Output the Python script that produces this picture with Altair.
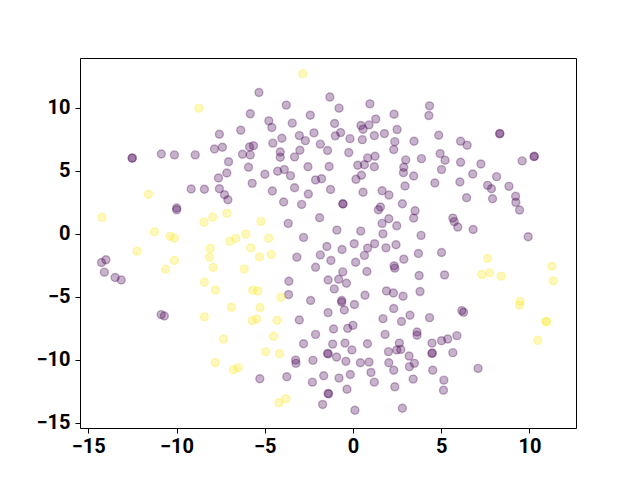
import altair as alt
import pandas as pd

# class 0 (purple)
x0 = [-12.52, -12.50, -10.86, -10.12, -8.94, -9.17, -8.42, -9.99, -9.99,
      -5.33, -3.78, -1.31, -5.82, -2.42, -4.77, -4.60, -3.44, -6.36, -7.57,
      -4.03, -3.04, -2.70, -2.21, -7.85, -7.40, -5.86, -5.64, -4.54, -1.85,
      -1.44, -6.26, -5.82, -4.12, -4.12, -3.31, -3.01, -7.05, -5.92, -2.55,
      -1.35, -7.15, -7.62, -4.99, -4.27, -3.89, -3.54, -2.12, -1.78, -7.57,
      -5.71, -3.31, -7.28, -7.09, -4.57, -2.53, -3.93, -2.91, -1.27, -3.67,
      -1.89, -2.80,
      -0.79, 0.96, 4.34, 4.30, -1.04, 1.29, 2.33, 0.45, 0.57, 0.91, -1.00,
      -0.70, -0.17, 0.53, 1.21, 1.78, 2.50, 2.37, 2.31, 3.46, 4.86, -0.24,
      1.25, 0.83, 0.27, 0.65, 1.21, 2.99, 2.88, 2.86, 3.88, 4.94, 5.22, 5.02,
      0.48, 0.17, 3.44, 4.64, 0.57, 1.65, 2.04, 2.95, -0.58, -0.56, 1.56,
      1.44, 2.80, 3.52, 3.44, 1.65, 2.03, 2.48, -0.91, 0.44, 1.70, 3.86,
      5.66, 5.74,
      8.31, 8.33, 6.10, 6.47, 10.26, 10.28, 9.59, 6.10, 7.25, 6.79, 8.14,
      6.06, 7.63, 7.85, 8.84, 6.44, 7.91, 9.22, 9.23, 9.44, 5.94, 6.81, 9.93,
      -14.00, -14.25, -14.09, -13.48, -13.13, -10.87, -10.69,
      -3.18, -1.85, -1.48, -2.12, -1.41, -3.63, -3.65, -2.40, -3.04, -1.41,
      -2.12, -2.80, -3.25, -3.23, -2.27, -1.44, -1.40, -5.28, -3.75, -2.30,
      -1.66, -1.41, -1.38, -1.72,
      -0.62, 0.07, 0.83, 0.65, 1.23, 1.87, 2.44, -1.25, 0.15, 0.79, 2.33,
      2.37, 2.88, 3.71, 5.02, -0.58, -0.81, -0.37, -1.06, 3.75, 5.19, 0.68,
      1.90, 2.29, 2.84, 3.80, -0.64, -0.64, 0.08, -0.49, 2.31, 1.70, 2.75,
      3.23, 4.34, -1.10, -0.30, 0.00, 1.82, 3.63, 3.63, -1.15, -0.45, -0.06,
      0.82, 2.63, 2.48, 2.01, 2.71, 4.48, 5.02, 5.37, 5.66, -0.93, -0.40,
      0.42, 0.91, 2.03, 3.18, 3.48, 3.20, 4.47, 4.50, 2.31, 1.02, -0.15,
      -0.79, 1.21, 3.41, 4.52, 5.15, 5.13, -0.34, 2.37, 0.11, 2.80,
      6.17, 6.27, 5.89, 7.09]
y0 = [5.98, 6.01, 6.32, 6.25, 6.25, 3.54, 3.52, 2.03, 1.89,
      11.20, 10.20, 10.84, 9.51, 9.40, 8.95, 8.42, 8.77, 8.21, 7.89,
      7.57, 7.78, 7.38, 8.00, 6.72, 6.86, 6.88, 6.98, 7.18, 7.10,
      6.60, 6.30, 6.25, 6.48, 6.06, 6.09, 6.62, 5.71, 5.27, 5.31,
      5.33, 4.81, 4.42, 4.71, 4.95, 5.08, 4.60, 4.26, 4.36, 3.56,
      3.99, 3.64, 3.09, 2.69, 3.38, 3.14, 2.51, 2.32, 3.50, 0.81,
      1.26, -0.30,
      9.96, 10.30, 10.14, 9.37, 8.74, 9.09, 9.48, 8.58, 8.29, 8.63, 7.76,
      8.02, 7.54, 7.46, 7.78, 7.94, 8.26, 7.30, 6.67, 7.33, 7.81, 6.43,
      6.14, 6.01, 5.43, 5.47, 5.31, 5.85, 5.27, 4.84, 5.95, 6.35, 5.82, 5.08,
      4.63, 4.31, 4.57, 4.02, 3.28, 3.40, 3.06, 3.78, 2.37, 2.35, 2.11,
      1.89, 2.37, 1.81, 1.23, 0.81, 1.18, 0.62, 0.28, 0.20, -0.02, -0.14,
      1.23, 0.95,
      7.92, 7.95, 7.33, 7.02, 6.11, 6.14, 5.77, 5.66, 5.53, 4.73, 4.52,
      4.10, 3.83, 3.56, 3.75, 2.85, 2.77, 2.96, 2.48, 1.87, 0.52, 0.33, -0.25,
      -2.08, -2.29, -3.06, -3.48, -3.68, -6.43, -6.54,
      -1.87, -1.69, -1.02, -2.67, -3.68, -3.78, -4.84, -5.31, -6.86, -6.27,
      -8.00, -8.74, -10.04, -10.30, -10.06, -9.51, -9.55, -11.52, -11.36, -11.79,
      -11.28, -12.69, -12.72, -13.56,
      -1.26, -0.80, -1.15, -1.73, -0.80, -1.13, -0.88, -2.13, -2.27, -3.01, -2.56,
      -2.74, -2.03, -1.58, -1.50, -3.04, -3.62, -3.94, -4.39, -3.33, -3.28, -4.89,
      -4.55, -4.71, -4.97, -4.60, -5.31, -5.45, -5.63, -6.06, -5.95, -6.75, -6.98,
      -6.48, -6.67, -7.57, -7.52, -7.28, -8.00, -7.81, -8.07, -8.77, -8.69, -9.24,
      -8.74, -8.69, -9.24, -9.37, -9.19, -8.69, -8.50, -8.37, -9.45, -9.80, -10.14,
      -10.25, -10.20, -10.25, -9.72, -10.30, -10.56, -9.51, -9.48, -10.84, -11.02, -11.18,
      -11.47, -11.79, -11.55, -10.84, -11.63, -12.43, -12.35, -12.16, -14.02, -13.86,
      -6.11, -6.25, -8.10, -10.70]

# class 1 (yellow)
x1 = [-8.74, -11.59, -14.22, -8.44, -11.25, -10.36, -10.12, -2.84, -7.95,
      -7.15, -5.22, -6.07, -6.64, -6.98, -4.78, -12.24, -10.12, -10.61,
      -8.42, -8.42, -8.09, -5.79, -8.13, -5.30, -4.63, -7.92, -6.16, -7.79,
      -5.68, -5.39, -4.09, -6.88, -5.26, -5.71, -5.45, -4.31, -7.34, -4.50,
      -4.94, -4.16, -7.81, -6.77, -6.50, -3.80, -4.20, 7.63, 7.30, 7.74,
      8.40, 11.28, 11.35, 9.48, 9.44, 10.94, 10.97, 10.47]
y1 = [9.96, 3.12, 1.29, 0.91, 0.14, -0.20, -0.36, 12.69, 1.31,
      1.61, 0.97, -0.04, -0.38, -0.60, -0.36, -1.39, -2.13, -2.82,
      -3.86, -6.62, -1.18, -1.13, -1.87, -1.85, -1.65, -2.69, -2.80, -4.47,
      -4.49, -4.55, -5.05, -5.85, -5.87, -6.91, -6.78, -6.88, -8.37, -8.15,
      -9.37, -9.53, -10.25, -10.80, -10.64, -13.11, -13.43, -1.97, -3.25, -3.12,
      -3.38, -2.59, -3.75, -5.39, -5.69, -6.98, -7.00, -8.47]

df = pd.DataFrame({
    "x": x0 + x1,
    "y": y0 + y1,
    "label": [0] * len(x0) + [1] * len(x1),
})

font = "Roboto"
ticks = [-15, -10, -5, 0, 5, 10]
xscale = alt.Scale(domain=[-15.47, 12.64], nice=False, zero=False)
yscale = alt.Scale(domain=[-15.43, 13.94], nice=False, zero=False)
cscale = alt.Scale(domain=[0, 1], range=["#440154", "#fde725"])

def main_axis(pad):
    return alt.Axis(values=ticks, title=None, grid=False,
                    tickSize=5, tickColor="black", tickWidth=1,
                    domainColor="black", domainWidth=1, labelFont=font,
                    labelFontSize=20, labelFontWeight="bold",
                    labelColor="black", labelPadding=pad)

def frame_axis(orient):
    return alt.Axis(orient=orient, title=None, grid=False, labels=False,
                    ticks=False, domainColor="black", domainWidth=1)

points = alt.Chart(df).mark_circle(
    size=64, fillOpacity=0.3, strokeOpacity=0.3, strokeWidth=1.4, opacity=1
).encode(
    x=alt.X("x:Q", scale=xscale, axis=main_axis(3)),
    y=alt.Y("y:Q", scale=yscale, axis=main_axis(5)),
    color=alt.Color("label:N", scale=cscale, legend=None),
    stroke=alt.Color("label:N", scale=cscale, legend=None),
)

frame = alt.Chart(df).mark_point(opacity=0).encode(
    x=alt.X("x:Q", scale=xscale, axis=frame_axis("top")),
    y=alt.Y("y:Q", scale=yscale, axis=frame_axis("right")),
)

chart = alt.layer(points, frame).resolve_axis(
    x="independent", y="independent"
).properties(
    width=496, height=370,
    autosize=alt.AutoSizeParams(type="none"),
    padding={"left": 72, "top": 50, "right": 56, "bottom": 45},
).configure_view(stroke=None).configure(background="white")

chart.save("out.html", embed_options={"renderer": "svg", "actions": False})
